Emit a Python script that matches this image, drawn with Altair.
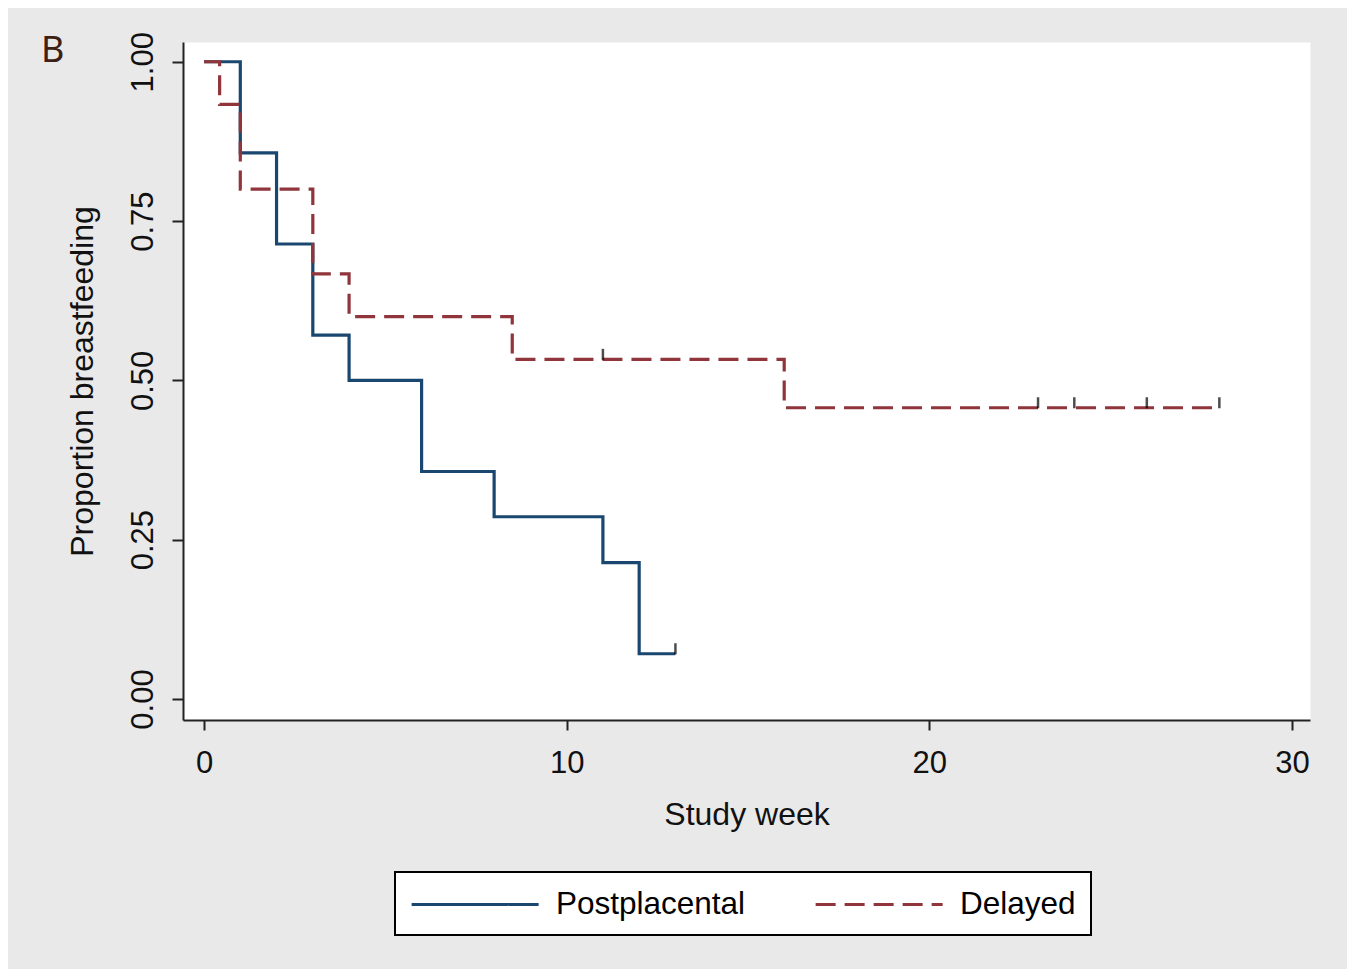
import altair as alt
import pandas as pd

# ---- data ----
groups = ["Postplacental", "Delayed"]
colors = ["#1a476f", "#90353b"]

pp_weeks = [0, 1, 2, 3, 4, 6, 8, 11, 12, 13]
pp_surv = [1.0, 0.857, 0.714, 0.571, 0.5, 0.357, 0.286, 0.214, 0.071, 0.071]

dl_weeks = [0, 0.43, 1, 3, 4, 8.5, 16, 28]
dl_surv = [1.0, 0.933, 0.8, 0.667, 0.6, 0.533, 0.457, 0.457]

pp_cens_weeks = [13]
pp_cens_surv = [0.071]
dl_cens_weeks = [11, 23, 24, 26, 28]
dl_cens_surv = [0.533, 0.457, 0.457, 0.457, 0.457]

x_ticks = [0, 10, 20, 30]
y_ticks = [0, 0.25, 0.5, 0.75, 1.0]
panel_label = ["B"]

# ---- tables ----
pp_df = pd.DataFrame({"week": pp_weeks, "surv": pp_surv, "group": groups[0]})
dl_df = pd.DataFrame({"week": dl_weeks, "surv": dl_surv, "group": groups[1]})
cens_df = pd.DataFrame({
    "week": pp_cens_weeks + dl_cens_weeks,
    "surv": pp_cens_surv + dl_cens_surv,
})
label_df = pd.DataFrame({"label": panel_label})

FONT = "Liberation Sans"

x_enc = alt.X(
    "week:Q",
    scale=alt.Scale(domain=[-0.58, 30.5], nice=False, zero=False),
    axis=alt.Axis(
        values=x_ticks, title="Study week", format="d",
        tickSize=10, labelPadding=42, labelBaseline="alphabetic",
        titleY=104, titleBaseline="alphabetic",
    ),
)
y_enc = alt.Y(
    "surv:Q",
    scale=alt.Scale(domain=[-0.033, 1.031], nice=False, zero=False),
    axis=alt.Axis(
        values=y_ticks, title="Proportion breastfeeding", format=".2f",
        tickSize=11, labelPadding=20, labelAngle=270,
        labelAlign="center", labelBaseline="alphabetic",
        titleAngle=270, titleX=-91, titleY=339,
        titleAlign="center", titleBaseline="alphabetic",
    ),
)

# long horizontal line symbol: unit box is [-1,1]; path runs from -1 to 7 units
legend = alt.Legend(
    orient="none", legendX=212, legendY=830, direction="horizontal",
    padding=15, strokeColor="black", fillColor="white",
    symbolType="M-1,0L7,0", symbolSize=1008, symbolStrokeWidth=3,
    labelFont=FONT, labelFontSize=31.5, labelColor="black", labelLimit=0,
    labelOffset=111, columnPadding=63,
)

color_enc = alt.Color(
    "group:N", title="",
    scale=alt.Scale(domain=groups, range=colors),
    legend=legend,
)
dash_enc = alt.StrokeDash(
    "group:N", title="",
    scale=alt.Scale(domain=groups, range=[[1, 0], [20, 9]]),
    legend=legend,
)

pp_line = alt.Chart(pp_df).mark_line(
    interpolate="step-after", strokeWidth=3.2, strokeCap="butt"
).encode(x=x_enc, y=y_enc, color=color_enc, strokeDash=dash_enc)

dl_line = alt.Chart(dl_df).mark_line(
    interpolate="step-after", strokeWidth=3.2, strokeCap="butt"
).encode(x=x_enc, y=y_enc, color=color_enc, strokeDash=dash_enc)

cens = alt.Chart(cens_df).mark_tick(
    orient="vertical", size=11, thickness=2.5, color="#000000", yOffset=-5
).encode(x=x_enc, y=y_enc)

panel = alt.Chart(label_df).mark_text(
    font="Noto Sans", fontSize=36, color="#3d1f14",
    align="left", baseline="alphabetic",
).encode(text="label:N", x=alt.value(-142), y=alt.value(20))

chart = alt.layer(pp_line, dl_line, cens, panel).properties(
    width=1127,
    height=678,
    padding={"left": 175, "top": 34, "right": 37, "bottom": 249},
    autosize=alt.AutoSizeParams(type="none"),
    background="#e9e9e9",
).configure_view(
    fill="white", strokeOpacity=0,
).configure_axis(
    grid=False,
    labelFont=FONT, labelFontSize=31, labelColor="#111111",
    titleFont=FONT, titleFontSize=32, titleFontWeight="normal", titleColor="#111111",
    tickColor="#222222", tickWidth=2,
    domainColor="#222222", domainWidth=2,
).configure_legend(
    strokeWidth=2,
)

chart.save("out.html", embed_options={"renderer": "svg", "actions": False})
